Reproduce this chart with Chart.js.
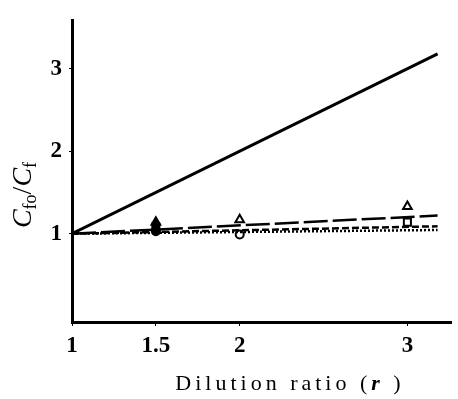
<!DOCTYPE html>
<html>
<head>
<meta charset="utf-8">
<script src="https://cdn.jsdelivr.net/npm/chart.js@4.4.1/dist/chart.umd.min.js"></script>
<style>
  html, body { margin: 0; padding: 0; background: #fff; }
  #wrap { width: 458px; height: 399px; }
</style>
</head>
<body>
<div id="wrap"><canvas id="dilutionChart" width="458" height="399"></canvas></div>
<script>
// Dilution ratio vs Cfo/Cf
const xTicks = [1, 1.5, 2, 3];
const yTicks = [1, 2, 3];

// fitted lines (end points)
const lineX = [1, 3.18];
const idealLine = [1, 3.18];
const longDashLine = [1, 1.22];
const shortDashLine = [1, 1.09];
const dottedLine = [1, 1.045];

// measured points
const triX = [1.5, 2, 3];
const triY = [1.14, 1.17, 1.33];
const sqX = [1.5, 3];
const sqY = [1.08, 1.14];
const circX = [1.5, 2];
const circY = [1.03, 0.99];

const toXY = (xs, ys) => xs.map((x, i) => ({ x: x, y: ys[i] }));

const serif = "'Liberation Serif', 'DejaVu Serif', serif";

const titlePlugin = {
    id: "axisTitles",
    afterDraw(chart) {
        const ctx = chart.ctx;
        const area = chart.chartArea;
        ctx.save();
        ctx.fillStyle = "#000";
        ctx.textBaseline = "alphabetic";

        // x title: Dilution ratio (r)
        ctx.letterSpacing = "4px";
        const parts = [
            { t: "Dilution ratio (", f: "22px " + serif },
            { t: "r", f: "italic bold 22px " + serif },
            { t: " )", f: "22px " + serif }
        ];
        let total = 0;
        parts.forEach(p => { ctx.font = p.f; p.w = ctx.measureText(p.t).width; total += p.w; });
        let x = area.left + 218 - total / 2;
        parts.forEach(p => { ctx.font = p.f; ctx.fillText(p.t, x, 390); x += p.w; });

        // y title: Cfo/Cf (rotated)
        ctx.letterSpacing = "0px";
        ctx.translate(31, 195);
        ctx.rotate(-Math.PI / 2);
        const yParts = [
            { t: "C", f: "italic 28px " + serif, dy: 0 },
            { t: "fo", f: "18px " + serif, dy: 5 },
            { t: "/", f: "28px " + serif, dy: 0 },
            { t: "C", f: "italic 28px " + serif, dy: 0 },
            { t: "f", f: "18px " + serif, dy: 5 }
        ];
        let yt = 0;
        yParts.forEach(p => { ctx.font = p.f; p.w = ctx.measureText(p.t).width; yt += p.w; });
        let px = -yt / 2;
        yParts.forEach(p => { ctx.font = p.f; ctx.fillText(p.t, px, p.dy); px += p.w; });
        ctx.restore();
    }
};

const ctx1 = document.getElementById("dilutionChart").getContext("2d");

new Chart(ctx1, {
    type: "scatter",
    data: {
        datasets: [
            {
                type: "line",
                data: toXY(lineX, idealLine),
                borderColor: "#000",
                borderWidth: 3,
                pointRadius: 0,
                fill: false
            },
            {
                type: "line",
                data: toXY(lineX, longDashLine),
                borderColor: "#000",
                borderWidth: 2.5,
                borderDash: [24, 5],
                pointRadius: 0,
                fill: false
            },
            {
                type: "line",
                data: toXY(lineX, shortDashLine),
                borderColor: "#000",
                borderWidth: 2.5,
                borderDash: [7, 3],
                pointRadius: 0,
                fill: false
            },
            {
                type: "line",
                data: toXY(lineX, dottedLine),
                borderColor: "#000",
                borderWidth: 2.5,
                borderDash: [2, 2],
                pointRadius: 0,
                fill: false
            },
            {
                data: toXY(triX, triY),
                pointStyle: "triangle",
                pointRadius: 5,
                borderColor: "#000",
                pointBorderWidth: 2,
                pointBackgroundColor: ["#000", "#fff", "#fff"]
            },
            {
                data: toXY(sqX, sqY),
                pointStyle: "rect",
                pointRadius: 5,
                borderColor: "#000",
                pointBorderWidth: 2,
                pointBackgroundColor: ["#000", "#fff"]
            },
            {
                data: toXY(circX, circY),
                pointStyle: "circle",
                pointRadius: 4,
                borderColor: "#000",
                pointBorderWidth: 2,
                pointBackgroundColor: ["#000", "#fff"]
            }
        ]
    },
    options: {
        responsive: false,
        animation: false,
        layout: { padding: { top: 14, right: 0, left: 0, bottom: 0 } },
        plugins: {
            legend: { display: false },
            tooltip: { enabled: false }
        },
        scales: {
            x: {
                type: "linear",
                min: 1,
                max: 3.26,
                afterBuildTicks: (scale) => { scale.ticks = xTicks.map(v => ({ value: v })); },
                afterFit: (scale) => { scale.height = 77; },
                border: { display: true, color: "#000", width: 3 },
                grid: { drawOnChartArea: false, drawTicks: true, tickLength: 4, color: "#000", lineWidth: 1 },
                ticks: {
                    color: "#000",
                    padding: 6,
                    maxRotation: 0,
                    font: { family: serif, size: 23, weight: "bold" },
                    callback: (v) => String(v)
                }
            },
            y: {
                type: "linear",
                min: -0.07,
                max: 3.58,
                afterBuildTicks: (scale) => { scale.ticks = yTicks.map(v => ({ value: v })); },
                afterFit: (scale) => { scale.width = 72; },
                border: { display: true, color: "#000", width: 3 },
                grid: { drawOnChartArea: false, drawTicks: true, tickLength: 3, color: "#000", lineWidth: 1 },
                ticks: {
                    color: "#000",
                    padding: 7,
                    font: { family: serif, size: 23, weight: "bold" },
                    callback: (v) => String(v)
                }
            }
        }
    },
    plugins: [titlePlugin]
});
</script>
</body>
</html>
